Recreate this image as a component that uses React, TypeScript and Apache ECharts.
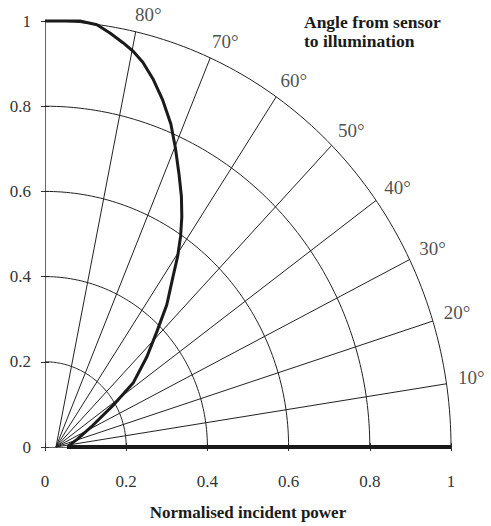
import React, { useEffect, useRef } from "react";
import * as echarts from "echarts";

// ---- data ----
const radii = [0.2, 0.4, 0.6, 0.8, 1];
const angles = [10, 20, 30, 40, 50, 60, 70, 80];
const angleLabels = ["10°", "20°", "30°", "40°", "50°", "60°", "70°", "80°"];
const responseCurve: [number, number][] = [
  [0, 1.0],
  [0.086, 1.0],
  [0.128, 0.991],
  [0.16, 0.972],
  [0.192, 0.949],
  [0.217, 0.929],
  [0.241, 0.903],
  [0.266, 0.864],
  [0.29, 0.814],
  [0.31, 0.758],
  [0.321, 0.703],
  [0.33, 0.641],
  [0.336, 0.588],
  [0.337, 0.54],
  [0.334, 0.495],
  [0.327, 0.449],
  [0.316, 0.403],
  [0.3, 0.334],
  [0.276, 0.272],
  [0.251, 0.212],
  [0.217, 0.15],
  [0.167, 0.097],
  [0.118, 0.051],
  [0.079, 0.018],
  [0.057, 0.002],
];
const baseline: [number, number][] = [
  [0.054, 0],
  [1, 0],
];
const xAxisTitle = "Normalised incident power";
const angleTitle = ["Angle from sensor", "to illumination"];

// ---- layout ----
const PLOT_W = 406;
const PLOT_H = 434;
const ORIGIN_X = 0.027;
const RAY_SLOPE_FACTOR = 0.875; // rays are drawn slightly flattened in the original figure
const FONT = "'Liberation Serif', 'Times New Roman', serif";

function arcPoints(r: number): [number, number][] {
  const pts: [number, number][] = [];
  for (let d = 0; d <= 90; d += 1) {
    const a = (d * Math.PI) / 180;
    pts.push([r * Math.cos(a), r * Math.sin(a)]);
  }
  return pts;
}

function rayEnd(deg: number): [number, number] {
  const a = (deg * Math.PI) / 180;
  const dx = Math.cos(a);
  const dy = Math.sin(a) * RAY_SLOPE_FACTOR;
  const A = dx * dx + dy * dy;
  const B = 2 * ORIGIN_X * dx;
  const C = ORIGIN_X * ORIGIN_X - 1;
  const t = (-B + Math.sqrt(B * B - 4 * A * C)) / (2 * A);
  return [ORIGIN_X + t * dx, t * dy];
}

export default function App() {
  const ref = useRef<HTMLDivElement>(null);
  useEffect(() => {
    if (!ref.current) return;
    const chart = echarts.init(ref.current, undefined, { renderer: "svg" });

    const gridLine = { color: "#222", width: 1 };
    const series: any[] = [];
    radii.forEach((r) => {
      series.push({
        type: "line",
        data: arcPoints(r),
        symbol: "none",
        silent: true,
        clip: false,
        lineStyle: gridLine,
        z: 1,
      });
    });
    angles.forEach((deg) => {
      series.push({
        type: "line",
        data: [[ORIGIN_X, 0], rayEnd(deg)],
        symbol: "none",
        silent: true,
        clip: false,
        lineStyle: gridLine,
        z: 1,
      });
    });
    series.push({
      type: "scatter",
      symbolSize: 1,
      clip: false,
      itemStyle: { color: "transparent" },
      silent: true,
      data: angles.map((deg, i) => {
        const e = rayEnd(deg);
        const a = (deg * Math.PI) / 180;
        const offX = 10 + 15 * Math.cos(a);
        const offY = 4 + 14 * Math.sin(a);
        return {
          name: angleLabels[i],
          value: [e[0] + offX / PLOT_W, e[1] + offY / PLOT_H],
        };
      }),
      label: {
        show: true,
        position: "inside",
        formatter: "{b}",
        color: "#222",
        fontSize: 19,
        fontFamily: FONT,
        align: "center",
        verticalAlign: "middle",
      },
      labelLayout: { hideOverlap: false },
      z: 3,
    });
    series.push({
      type: "line",
      data: responseCurve,
      symbol: "none",
      clip: false,
      lineStyle: { color: "#1a1a1a", width: 3 },
      z: 5,
    });
    series.push({
      type: "line",
      data: baseline,
      symbol: "none",
      clip: false,
      lineStyle: { color: "#1a1a1a", width: 4 },
      z: 5,
    });

    const axisCommon = {
      type: "value" as const,
      min: 0,
      max: 1,
      interval: 0.2,
      splitLine: { show: false },
    };

    chart.setOption({
      animation: false,
      grid: { left: 45, right: 40, top: 21, bottom: 71 },
      xAxis: [
        {
          ...axisCommon,
          position: "bottom",
          axisLine: { show: true, lineStyle: { color: "#666", width: 1 } },
          axisTick: { show: true, length: 4, lineStyle: { color: "#333" } },
          axisLabel: { fontSize: 17, color: "#333", fontFamily: FONT, margin: 26 },
          name: xAxisTitle,
          nameLocation: "middle",
          nameGap: 57,
          nameTextStyle: { fontSize: 17, fontWeight: "bold", color: "#1a1a1a", fontFamily: FONT },
        },
        {
          ...axisCommon,
          position: "bottom",
          axisLine: { show: false },
          axisTick: { show: true, inside: true, length: 4, lineStyle: { color: "#333" } },
          axisLabel: { show: false },
        },
      ],
      yAxis: [
        {
          ...axisCommon,
          position: "left",
          axisLine: { show: true, lineStyle: { color: "#666", width: 1 } },
          axisTick: { show: true, length: 4, lineStyle: { color: "#333" } },
          axisLabel: { fontSize: 17, color: "#333", fontFamily: FONT, margin: 14 },
        },
        {
          ...axisCommon,
          position: "left",
          axisLine: { show: false },
          axisTick: { show: true, inside: true, length: 4, lineStyle: { color: "#333" } },
          axisLabel: { show: false },
        },
      ],
      graphic: [
        {
          type: "text",
          left: 304,
          top: 12,
          style: {
            text: angleTitle.join("\n"),
            font: `bold 17.5px ${FONT}`,
            fill: "#1a1a1a",
            lineHeight: 19,
          },
        },
      ],
      series,
    });
    return () => chart.dispose();
  }, []);
  return (
    <div
      ref={ref}
      style={{ position: "fixed", left: 0, top: 0, width: 491, height: 526, background: "#fff" }}
    />
  );
}
